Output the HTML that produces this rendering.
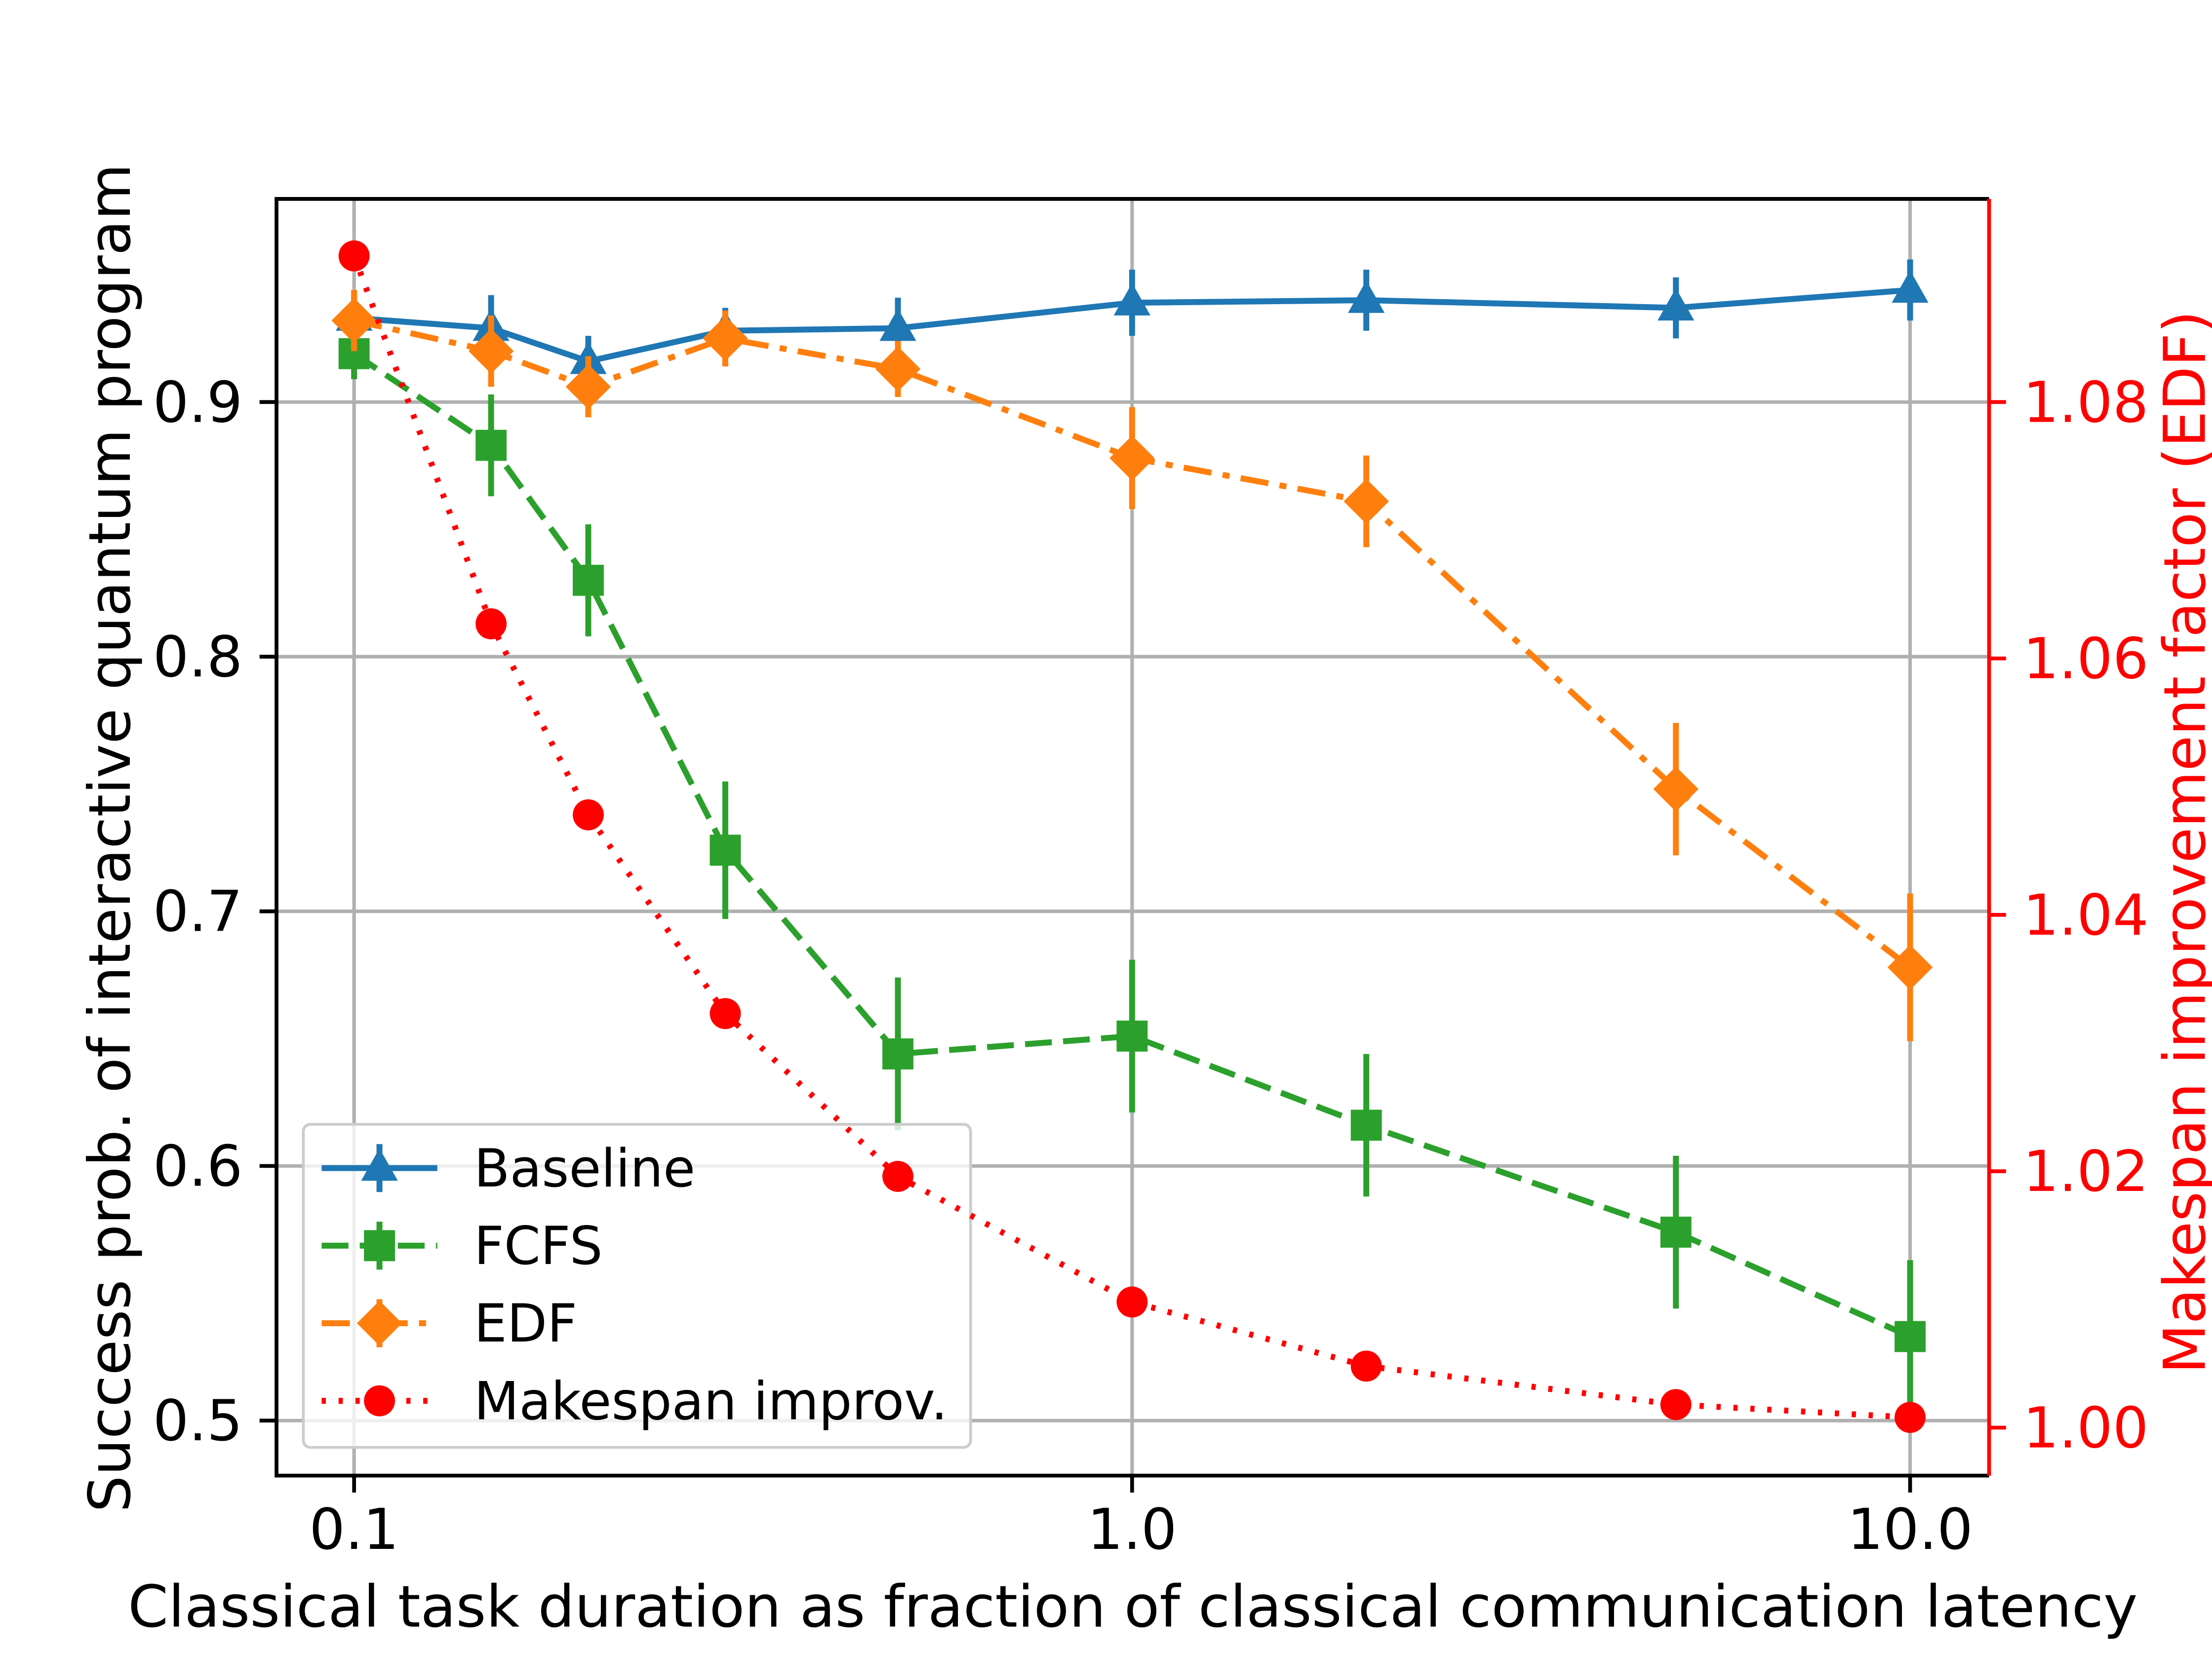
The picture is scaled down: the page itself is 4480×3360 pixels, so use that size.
<!DOCTYPE html>
<html><head><meta charset="utf-8"><style>html,body{margin:0;padding:0;background:#fff}svg{display:block}text{font-family:"DejaVu Sans","Liberation Sans",sans-serif}</style></head>
<body>
<svg id="chart" width="4480" height="3360" viewBox="0 0 1568 1176" xmlns="http://www.w3.org/2000/svg">
<rect width="1568" height="1176" fill="#fff"/>
<g id="grid"></g>
<g id="marks"></g>
<g id="axes"></g>
<g id="legend"></g>
<g id="marks2"></g>
</svg>
<script>
const xValues = [0.1, 0.15, 0.2, 0.3, 0.5, 1, 2, 5, 10];
const baseline = [0.933, 0.929, 0.916, 0.928, 0.929, 0.939, 0.940, 0.937, 0.944];
const baselineErr = [0.010, 0.013, 0.010, 0.009, 0.012, 0.013, 0.012, 0.012, 0.012];
const fcfs = [0.919, 0.883, 0.830, 0.724, 0.644, 0.651, 0.616, 0.574, 0.533];
const fcfsErr = [0.010, 0.020, 0.022, 0.027, 0.030, 0.030, 0.028, 0.030, 0.030];
const edf = [0.932, 0.920, 0.906, 0.925, 0.913, 0.878, 0.861, 0.748, 0.678];
const edfErr = [0.012, 0.014, 0.012, 0.011, 0.011, 0.020, 0.018, 0.026, 0.029];
const makespan = [1.0914, 1.0627, 1.0478, 1.0323, 1.0196, 1.0098, 1.0048, 1.0018, 1.0008];
const xTicks = [0.1, 1, 10];
const xTickLabels = ["0.1", "1.0", "10.0"];
const yTicks = [0.5, 0.6, 0.7, 0.8, 0.9];
const yTickLabels = ["0.5", "0.6", "0.7", "0.8", "0.9"];
const y2Ticks = [1.00, 1.02, 1.04, 1.06, 1.08];
const y2TickLabels = ["1.00", "1.02", "1.04", "1.06", "1.08"];

const L = 196, R = 1410, T = 141, B = 1046;
const NS = "http://www.w3.org/2000/svg";
const X = v => 251 + (Math.log10(v) + 1) * 551.5;
const Y = v => 285 + (0.9 - v) * 1805;
const Y2 = v => 1012 - (v - 1.0) * 9087.5;
function mk(parent, tag, attrs, txt) {
  const e = document.createElementNS(NS, tag);
  for (const k in attrs) e.setAttribute(k, attrs[k]);
  if (txt !== undefined) e.textContent = txt;
  parent.appendChild(e);
  return e;
}
const grid = document.getElementById('grid');
const marks = document.getElementById('marks');
const marks2 = document.getElementById('marks2');
const axes = document.getElementById('axes');
const legend = document.getElementById('legend');
const FS = 40;

xTicks.forEach((t, i) => {
  const g = mk(grid, 'line', {x1: X(t), x2: X(t), y1: T, y2: B, stroke: '#b0b0b0', 'stroke-width': 2.5});
  
  
  mk(axes, 'line', {x1: X(t), x2: X(t), y1: B, y2: B + 12, stroke: '#000', 'stroke-width': 2.7});
  const lb = mk(axes, 'text', {x: X(t), y: B + 52, 'font-size': FS, 'text-anchor': 'middle'}, xTickLabels[i]);
  
  
});
yTicks.forEach((t, i) => {
  const g = mk(grid, 'line', {x1: L, x2: R, y1: Y(t), y2: Y(t), stroke: '#b0b0b0', 'stroke-width': 2.5});
  
  
  mk(axes, 'line', {x1: L - 12, x2: L, y1: Y(t), y2: Y(t), stroke: '#000', 'stroke-width': 2.7});
  const lb = mk(axes, 'text', {x: L - 24, y: Y(t) + 14, 'font-size': FS, 'text-anchor': 'end'}, yTickLabels[i]);
  
  
});
y2Ticks.forEach((t, i) => {
  mk(axes, 'line', {x1: R, x2: R + 12, y1: Y2(t), y2: Y2(t), stroke: 'red', 'stroke-width': 2.7});
  const lb = mk(axes, 'text', {x: R + 24, y: Y2(t) + 14, 'font-size': FS, fill: 'red'}, y2TickLabels[i]);
  
  
});
const frame = mk(axes, 'path', {d: `M${R},${T}H${L}V${B}H${R}`, fill: 'none', stroke: '#000', 'stroke-width': 2.7});


mk(axes, 'line', {x1: R, x2: R, y1: T, y2: B, stroke: 'red', 'stroke-width': 2.7});
const xl = mk(axes, 'text', {x: 803, y: 1153, 'font-size': 41, 'text-anchor': 'middle'}, 'Classical task duration as fraction of classical communication latency');


const yl = mk(axes, 'text', {x: 0, y: 0, 'font-size': 41, 'text-anchor': 'middle', transform: 'translate(92,594) rotate(-90)'}, 'Success prob. of interactive quantum program');


const y2l = mk(axes, 'text', {x: 0, y: 0, 'font-size': 41, 'text-anchor': 'middle', fill: 'red', transform: 'translate(1563,597) rotate(-90)'}, 'Makespan improvement factor (EDF)');



function marker(parent, type, x, y, color) {
  if (type === 'tri') return mk(parent, 'path', {d: `M${x},${y-14}L${x+13},${y+9}L${x-13},${y+9}Z`, fill: color});
  if (type === 'sq') return mk(parent, 'rect', {x: x - 11, y: y - 11, width: 22, height: 22, fill: color});
  if (type === 'dia') return mk(parent, 'path', {d: `M${x},${y-16}L${x+16},${y}L${x},${y+16}L${x-16},${y}Z`, fill: color});
  return mk(parent, 'circle', {cx: x, cy: y, r: 11, fill: color});
}
const series = [
  {name: 'baseline', vals: baseline, err: baselineErr, color: '#1f77b4', m: 'tri', dash: '', yf: Y, parent: marks},
  {name: 'fcfs', vals: fcfs, err: fcfsErr, color: '#2ca02c', m: 'sq', dash: '19,8', yf: Y, parent: marks},
  {name: 'edf', vals: edf, err: edfErr, color: '#ff7f0e', m: 'dia', dash: '20,8,5,8', yf: Y, parent: marks},
  {name: 'makespan', vals: makespan, err: null, color: 'red', m: 'dot', dash: '3,9', yf: Y2, parent: marks2}
];
series.forEach(s => {
  const g = mk(s.parent, 'g', {});
  
  
  const pts = xValues.map((x, i) => X(x) + ',' + s.yf(s.vals[i])).join(' ');
  const ln = mk(g, 'polyline', {points: pts, fill: 'none', stroke: s.color, 'stroke-width': 4.2, 'stroke-dasharray': s.dash});
  
  
  xValues.forEach((x, i) => {
    if (s.err) {
      const e = mk(g, 'line', {x1: X(x), x2: X(x), y1: Y(s.vals[i] - s.err[i]), y2: Y(s.vals[i] + s.err[i]), stroke: s.color, 'stroke-width': 4.2});
      
      
    }
    const m = marker(g, s.m, X(x), s.yf(s.vals[i]), s.color);
    
    
  });
});

const lb = mk(legend, 'rect', {x: 215, y: 797, width: 473, height: 229, rx: 5, fill: '#fff', 'fill-opacity': 0.8, stroke: '#ccc', 'stroke-width': 2});


const labels = ['Baseline', 'FCFS', 'EDF', 'Makespan improv.'];
series.forEach((s, i) => {
  const y = 828 + i * 55;
  const g = mk(legend, 'g', {});
  
  
  mk(g, 'line', {x1: 228, x2: 310, y1: y, y2: y, stroke: s.color, 'stroke-width': 4.2, 'stroke-dasharray': s.dash});
  if (s.err) mk(g, 'line', {x1: 269, x2: 269, y1: y - 17, y2: y + 17, stroke: s.color, 'stroke-width': 4.2});
  marker(g, s.m, 269, y, s.color);
  mk(g, 'text', {x: 336, y: y + 13, 'font-size': 37}, labels[i]);
});
</script>
</body></html>
